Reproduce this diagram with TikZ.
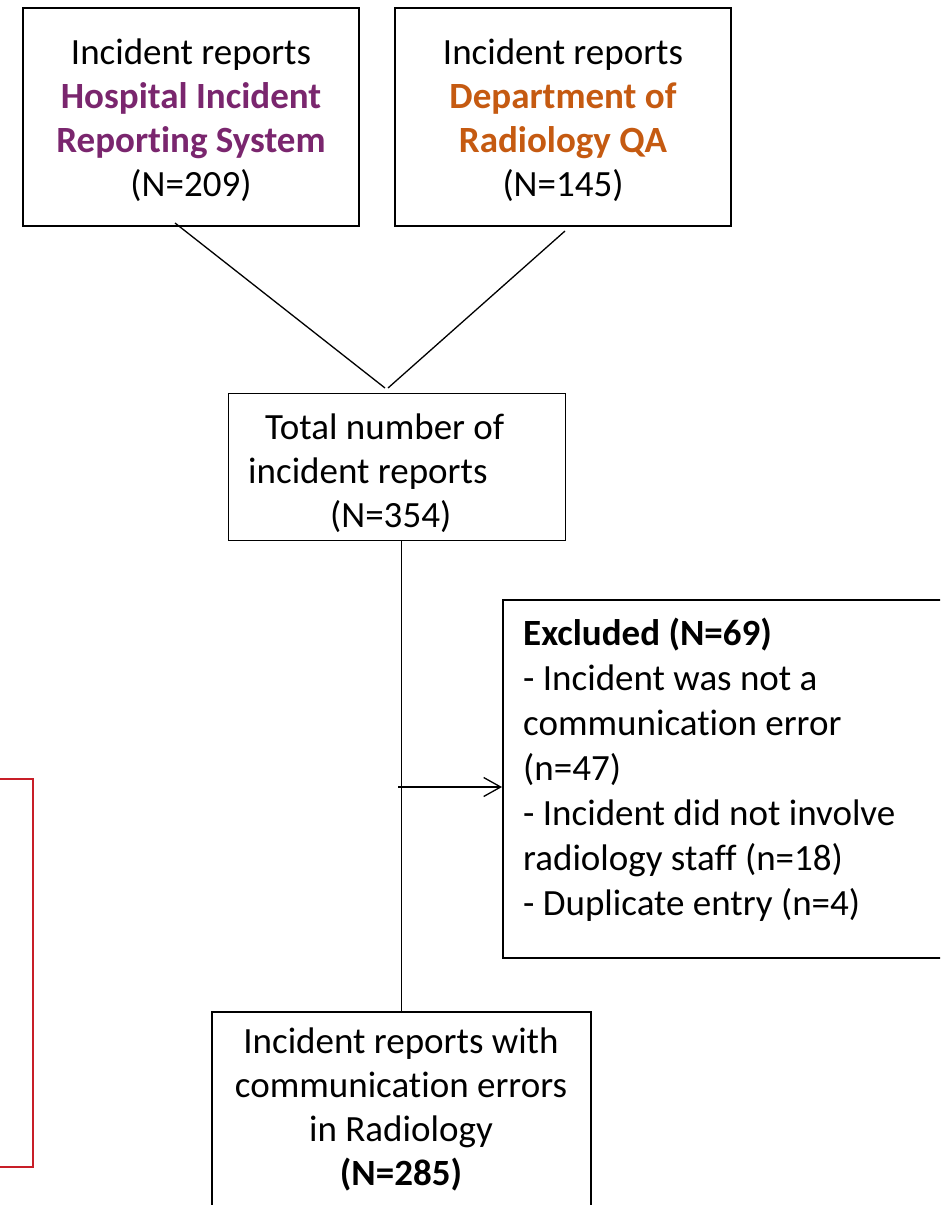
\documentclass[tikz,border=0pt]{standalone}
\usepackage{fontspec}
\setmainfont{Carlito}[Ligatures=NoCommon]
\usetikzlibrary{arrows.meta,calc}
\definecolor{hospurple}{RGB}{122,38,110}
\definecolor{radorange}{RGB}{197,90,17}
\definecolor{framered}{RGB}{200,30,40}
\begin{document}
\begin{tikzpicture}[x=1pt,y=-1pt,
  every node/.style={font=\fontsize{37}{44}\selectfont, inner sep=0pt},
  box/.style={draw=black, line width=2pt, fill=none},
  thinbox/.style={draw=black, line width=1pt},
  conn/.style={draw=black, line width=1.3pt},
  txt/.style={align=center}]
\useasboundingbox (0,0) rectangle (940,1205);
\clip (0,0) rectangle (940,1205);

% source boxes
\node[box, minimum width=336pt, minimum height=218pt] (hirs) at (191,117) {};
\node[txt] (hirstxt) at (191,120)
  {Incident reports\\ {\bfseries\color{hospurple}Hospital Incident}\\ {\bfseries\color{hospurple}Reporting System}\\ (N=209)};
\node[box, minimum width=336pt, minimum height=218pt] (qa) at (563,117) {};
\node[txt] (qatxt) at (563,120)
  {Incident reports\\ {\bfseries\color{radorange}Department of}\\ {\bfseries\color{radorange}Radiology QA}\\ (N=145)};

% total box
\node[thinbox, minimum width=337pt, minimum height=147pt] (total) at (396.5,466.5) {};
\node[anchor=north west, align=left] (totaltxt) at (248,414)
  {\hspace*{17pt}Total number of\\ incident reports\\ \hspace*{82pt}(N=354)};

% excluded box
\node[box, minimum width=477pt, minimum height=358pt] (excl) at (741.5,779) {};
\node[anchor=north west, align=left, font=\fontsize{37}{45}\selectfont] (excltxt) at (523,618)
  {\textbf{Excluded (N=69)}\\ - Incident was not a\\ communication error\\ (n=47)\\ - Incident did not involve\\ radiology staff (n=18)\\ - Duplicate entry (n=4)};

% final box
\node[box, minimum width=379pt, minimum height=228pt] (final) at (401.5,1126) {};
\node[txt] (finaltxt) at (401,1109)
  {Incident reports with\\ communication errors\\ in Radiology\\ \textbf{(N=285)}};

% red frame at left
\node[draw=framered, line width=2pt, minimum width=80pt, minimum height=388pt] (redframe) at (-7,973) {};

% connectors
\coordinate (apex) at (385,388);
\draw[conn] ($(hirs.south)+(-16,-4)$) -- (apex);
\draw[conn] ($(qa.south)+(2,4)$) -- ($(apex)+(3,0)$);
\draw[conn] (total.south -| final.north) -- (final.north);
\coordinate (branch) at (398,787);
\draw[conn, -{Straight Barb[length=17pt,width=19pt,line width=1.3pt]}] (branch) -- (branch -| excl.west);
\end{tikzpicture}
\end{document}
